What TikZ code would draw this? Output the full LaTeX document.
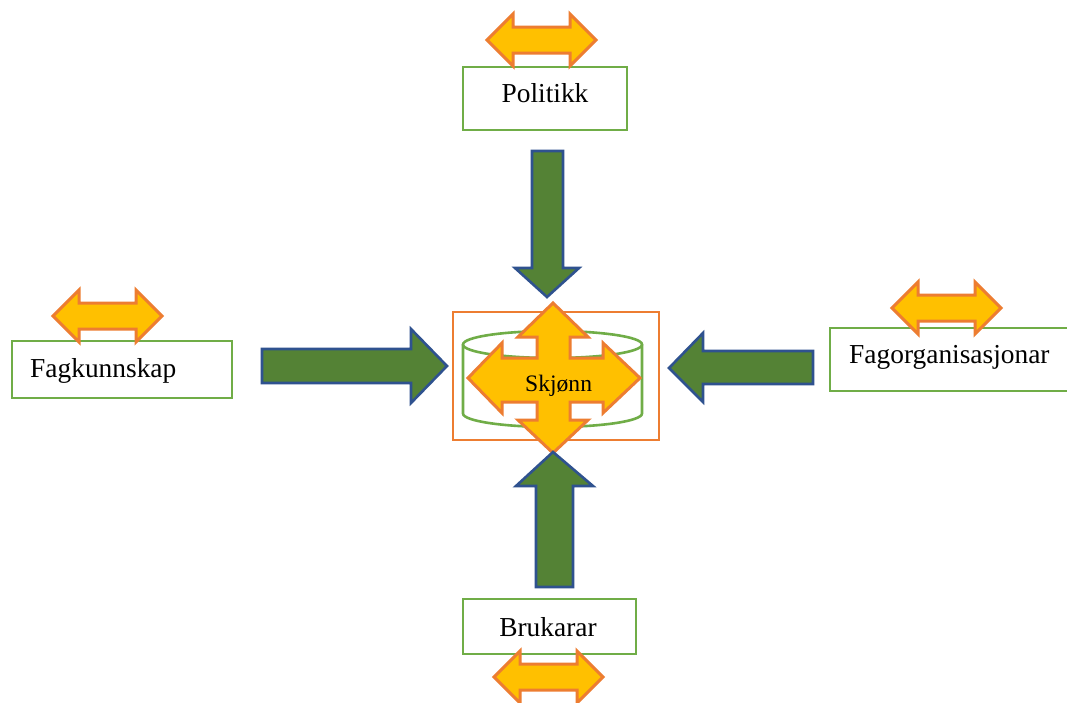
\documentclass[tikz,border=0pt]{standalone}
\usepackage{fontspec}
\setmainfont{Liberation Serif}
\definecolor{boxgreen}{HTML}{70AD47}
\definecolor{offorange}{HTML}{ED7D31}
\definecolor{offyellow}{HTML}{FFC000}
\definecolor{arrgreen}{HTML}{548235}
\definecolor{arrblue}{HTML}{2F528F}
\tikzset{
  box/.style={draw=boxgreen, line width=2.6pt, fill=white, inner sep=0pt},
  lbl/.style={inner sep=0pt, font=\fontsize{27.4}{30}\selectfont},
  yellowarrow/.style={fill=offyellow, draw=offorange, line width=3pt, line join=miter},
  greenarrow/.style={fill=arrgreen, draw=arrblue, line width=2.6pt, line join=miter},
  dblarr/.pic={\path[yellowarrow] (-54.5,0) -- (-28.5,-26) -- (-28.5,-13) -- (28.5,-13) -- (28.5,-26) -- (54.5,0) -- (28.5,26) -- (28.5,13) -- (-28.5,13) -- (-28.5,26) -- cycle;}
}
\begin{document}
\begin{tikzpicture}[x=1pt,y=-1pt]
\useasboundingbox (0,0) rectangle (1067,702);
\clip (0,0) rectangle (1067,702);
\fill[white] (0,0) rectangle (1067,702);

% outer boxes
\node[box, minimum width=164pt, minimum height=63pt] (politikk) at (545,98.5) {};
\node[lbl, anchor=base] (tpol) at (545,102) {Politikk};
\node[box, minimum width=220pt, minimum height=57pt] (fagk) at (122,369.5) {};
\node[lbl, anchor=base west] (tfagk) at (30,377) {Fagkunnskap};
\node[box, minimum width=250pt, minimum height=63pt] (fago) at (955,359.5) {};
\node[lbl, anchor=base west] (tfago) at (849,363) {Fagorganisasjonar};
\node[box, minimum width=173pt, minimum height=55pt] (bruk) at (549.5,626.5) {};
\node[lbl, anchor=base] (tbruk) at (548,636) {Brukarar};

% double arrows
\pic at (541.5,40) {dblarr};
\pic at (107.5,316) {dblarr};
\pic at (946.5,308) {dblarr};
\pic at (548.5,677) {dblarr};

% center
\node[draw=offorange, line width=2.6pt, minimum width=206pt, minimum height=128pt, inner sep=0pt] (centre) at (556,376) {};
\path[fill=white, draw=boxgreen, line width=2.6pt]
  (463,344.5) -- (463,413.5) arc[start angle=180, end angle=360, x radius=89.5, y radius=-13.5] -- (642,344.5);
\draw[boxgreen, line width=2.6pt] (552.5,344.5) ellipse[x radius=89.5, y radius=13.5];

\path[yellowarrow]
  (553,303) -- (588,337) -- (570,337) -- (570,358) -- (603,358) -- (603,343) -- (640,378)
  -- (603,413) -- (603,402) -- (570,402) -- (570,420) -- (588,420) -- (553,453)
  -- (518,420) -- (537,420) -- (537,402) -- (502,402) -- (502,413) -- (468,378)
  -- (502,343) -- (502,358) -- (537,358) -- (537,337) -- (518,337) -- cycle;
\node[inner sep=0pt, anchor=base west, font=\fontsize{23.6}{26}\selectfont] (skjonn) at (525,391) {Skjønn};

% green arrows
\path[greenarrow] (532,151) -- (563,151) -- (563,268) -- (579,268) -- (547,297) -- (515,268) -- (532,268) -- cycle;
\path[greenarrow] (262,349) -- (411,349) -- (411,329) -- (447,366) -- (411,403) -- (411,383) -- (262,383) -- cycle;
\path[greenarrow] (813,351) -- (703,351) -- (703,333) -- (669,368) -- (703,402) -- (703,384) -- (813,384) -- cycle;
\path[greenarrow] (536,587) -- (536,486) -- (516,486) -- (553,452) -- (593,486) -- (573,486) -- (573,587) -- cycle;
\end{tikzpicture}
\end{document}
